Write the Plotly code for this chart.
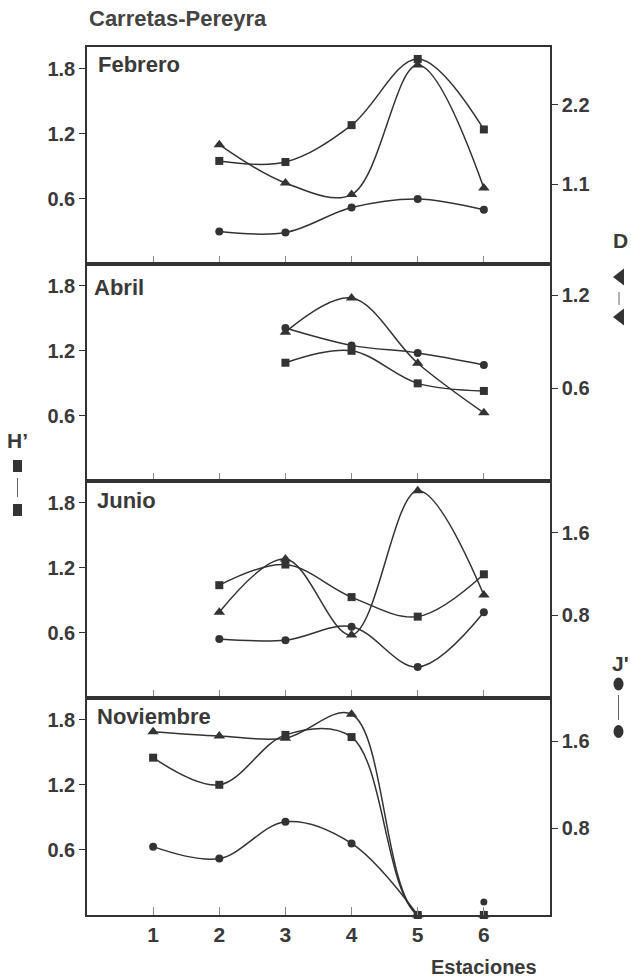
import plotly.graph_objects as go
from plotly.subplots import make_subplots

# ---------------- data ----------------
panel_names = ["Febrero", "Abril", "Junio", "Noviembre"]
xtick_vals = [1, 2, 3, 4, 5, 6]
left_ticks = [0.6, 1.2, 1.8]
left_ticktext = ["0.6", "1.2", "1.8"]

feb_x = [2, 3, 4, 5, 6]
feb_H = [0.95, 0.94, 1.28, 1.89, 1.24]
feb_D = [1.65, 1.12, 0.96, 2.75, 1.05]
feb_J = [0.30, 0.29, 0.52, 0.60, 0.50]

apr_x = [3, 4, 5, 6]
apr_H = [1.09, 1.20, 0.90, 0.83]
apr_D = [0.96, 1.18, 0.76, 0.44]
apr_J = [1.41, 1.25, 1.18, 1.07]

jun_x = [2, 3, 4, 5, 6]
jun_H = [1.04, 1.23, 0.93, 0.75, 1.14]
jun_D = [0.79, 1.28, 0.58, 1.91, 0.95]
jun_J = [0.57, 0.56, 0.69, 0.30, 0.83]

nov_x = [1, 2, 3, 4, 5, 6]
nov_H = [1.45, 1.20, 1.66, 1.64, 0.0, 0.0]
nov_D = [1.69, 1.65, 1.63, 1.85, 0.0, 0.0]
nov_J = [0.63, 0.52, 0.86, 0.66, 0.0, 0.12]
nov_J_connected = 5   # J' line joins stations 1-5 only; station 6 is an isolated point

right_ranges = [[0, 3.0], [0, 1.4], [0, 2.1], [0, 2.0]]
right_ticks = [[1.1, 2.2], [0.6, 1.2], [0.8, 1.6], [0.8, 1.6]]
right_ticktext = [["1.1", "2.2"], ["0.6", "1.2"], ["0.8", "1.6"], ["0.8", "1.6"]]
right_series = ["D", "D", "J", "J"]

# ---------------- style ----------------
W, H = 631, 978
L, R, T, B = 87, 550, 47, 915
DARK = "#333333"
TXT = "#3a3a3a"
FONT = "Liberation Sans, Arial, sans-serif"

def px(x):
    return (x - L) / (R - L)

def py(y):
    return (B - y) / (B - T)

fig = make_subplots(rows=4, cols=1, shared_xaxes=False, vertical_spacing=0,
                    specs=[[{"secondary_y": True}] for _ in range(4)])

symbols = {"H": "square", "D": "triangle-up", "J": "circle"}
sizes = {"H": 8, "D": 10, "J": 8}

panels = [
    (feb_x, {"H": feb_H, "D": feb_D, "J": feb_J}),
    (apr_x, {"H": apr_H, "D": apr_D, "J": apr_J}),
    (jun_x, {"H": jun_H, "D": jun_D, "J": jun_J}),
    (nov_x, {"H": nov_H, "D": nov_D, "J": nov_J}),
]

for i, (xs, series) in enumerate(panels):
    row = i + 1
    for key in ["H", "D", "J"]:
        sec = (key == right_series[i])
        xx, yy = xs, series[key]
        if row == 4 and key == "J":
            xx, yy = xs[:nov_J_connected], series[key][:nov_J_connected]
            fig.add_trace(go.Scatter(
                x=xs[nov_J_connected:], y=series[key][nov_J_connected:], mode="markers",
                marker=dict(symbol="circle", size=7, color=DARK),
                cliponaxis=False, showlegend=False, hoverinfo="skip"),
                row=row, col=1, secondary_y=sec)
        fig.add_trace(go.Scatter(
            x=xx, y=yy, mode="lines+markers",
            line=dict(shape="spline", smoothing=1.0, color=DARK, width=1.5),
            marker=dict(symbol=symbols[key], size=sizes[key], color=DARK),
            cliponaxis=False, showlegend=False, hoverinfo="skip"),
            row=row, col=1, secondary_y=sec)

tickfont = dict(family=FONT, size=20, color=TXT, weight="bold")
for i in range(4):
    row = i + 1
    fig.update_xaxes(range=[0, 7], domain=[0, 1], tickvals=xtick_vals,
                     ticktext=[str(v) for v in xtick_vals],
                     ticks="inside", ticklen=8, tickcolor="#888", tickwidth=1,
                     showline=True, linecolor=DARK, linewidth=1.5, mirror=True,
                     showgrid=False, zeroline=False, automargin=False,
                     showticklabels=(row == 4),
                     tickfont=dict(family=FONT, size=21, color=TXT, weight="bold"),
                     row=row, col=1)
    fig.update_yaxes(range=[0, 2.0], tickvals=left_ticks, ticktext=left_ticktext,
                     ticks="outside", ticklen=6, tickcolor=DARK, tickwidth=1.2,
                     showline=True, linecolor=DARK, linewidth=1.5, automargin=False,
                     showgrid=False, zeroline=False, tickfont=tickfont,
                     row=row, col=1, secondary_y=False)
    fig.update_yaxes(range=right_ranges[i], tickvals=right_ticks[i],
                     ticktext=right_ticktext[i],
                     ticks="outside", ticklen=6, tickcolor=DARK, tickwidth=1.2,
                     showline=True, linecolor=DARK, linewidth=1.5, automargin=False,
                     showgrid=False, zeroline=False, tickfont=tickfont,
                     row=row, col=1, secondary_y=True)

annotations = []
annotations.append(dict(text="Carretas-Pereyra", x=px(87), y=py(18), xref="paper", yref="paper",
                        xanchor="left", yanchor="middle", showarrow=False,
                        font=dict(family=FONT, size=22, color="#444", weight="bold")))
label_pos = [(96, 64), (92, 287), (95, 500), (95, 716)]
for name, (lx, ly) in zip(panel_names, label_pos):
    annotations.append(dict(text=name, x=px(lx), y=py(ly), xref="paper", yref="paper",
                            xanchor="left", yanchor="middle", showarrow=False,
                            font=dict(family=FONT, size=22, color=TXT, weight="bold")))
annotations.append(dict(text="Estaciones", x=px(484), y=py(967), xref="paper", yref="paper",
                        xanchor="center", yanchor="middle", showarrow=False,
                        font=dict(family=FONT, size=20, color=TXT, weight="bold")))
for txt, lx, ly in [("H’", 17, 440), ("D", 620, 240), ("J'", 620, 663)]:
    annotations.append(dict(text=txt, x=px(lx), y=py(ly), xref="paper", yref="paper",
                            xanchor="center", yanchor="middle", showarrow=False,
                            font=dict(family=FONT, size=21, color=TXT, weight="bold")))

shapes = []
def rect(cx, cy, w, h):
    return dict(type="rect", xref="paper", yref="paper", x0=px(cx - w / 2), x1=px(cx + w / 2),
                y0=py(cy + h / 2), y1=py(cy - h / 2), fillcolor=DARK, line=dict(width=0))
def ellipse(cx, cy, w, h):
    return dict(type="circle", xref="paper", yref="paper", x0=px(cx - w / 2), x1=px(cx + w / 2),
                y0=py(cy + h / 2), y1=py(cy - h / 2), fillcolor=DARK, line=dict(width=0))
def vline(cx, y0, y1):
    return dict(type="line", xref="paper", yref="paper", x0=px(cx), x1=px(cx),
                y0=py(y0), y1=py(y1), line=dict(color="#666", width=1))
def ltri(tipx, cy, w, h):
    p = "M {a} {b} L {c} {d} L {c} {e} Z".format(a=px(tipx), b=py(cy), c=px(tipx + w),
                                                 d=py(cy - h / 2), e=py(cy + h / 2))
    return dict(type="path", xref="paper", yref="paper", path=p, fillcolor=DARK,
                line=dict(width=0, color=DARK))

shapes += [rect(17.5, 466, 9, 12), vline(17.5, 478, 497), rect(17.5, 510, 9, 12)]
shapes += [ltri(613, 277, 11, 17), vline(619, 292, 305), ltri(613, 317, 11, 17)]
shapes += [ellipse(618.5, 684, 10, 13), vline(618.5, 695, 720), ellipse(618.5, 731.5, 10, 13)]

fig.update_layout(template="none", width=W, height=H,
                  plot_bgcolor="white", paper_bgcolor="white",
                  margin=dict(l=L, r=W - R, t=T, b=H - B, autoexpand=False),
                  annotations=list(fig.layout.annotations) + annotations,
                  shapes=shapes, showlegend=False)

fig.write_html("out.html", config={"displayModeBar": False},
               post_script="document.body.style.margin='0';document.body.style.overflow='hidden';")
